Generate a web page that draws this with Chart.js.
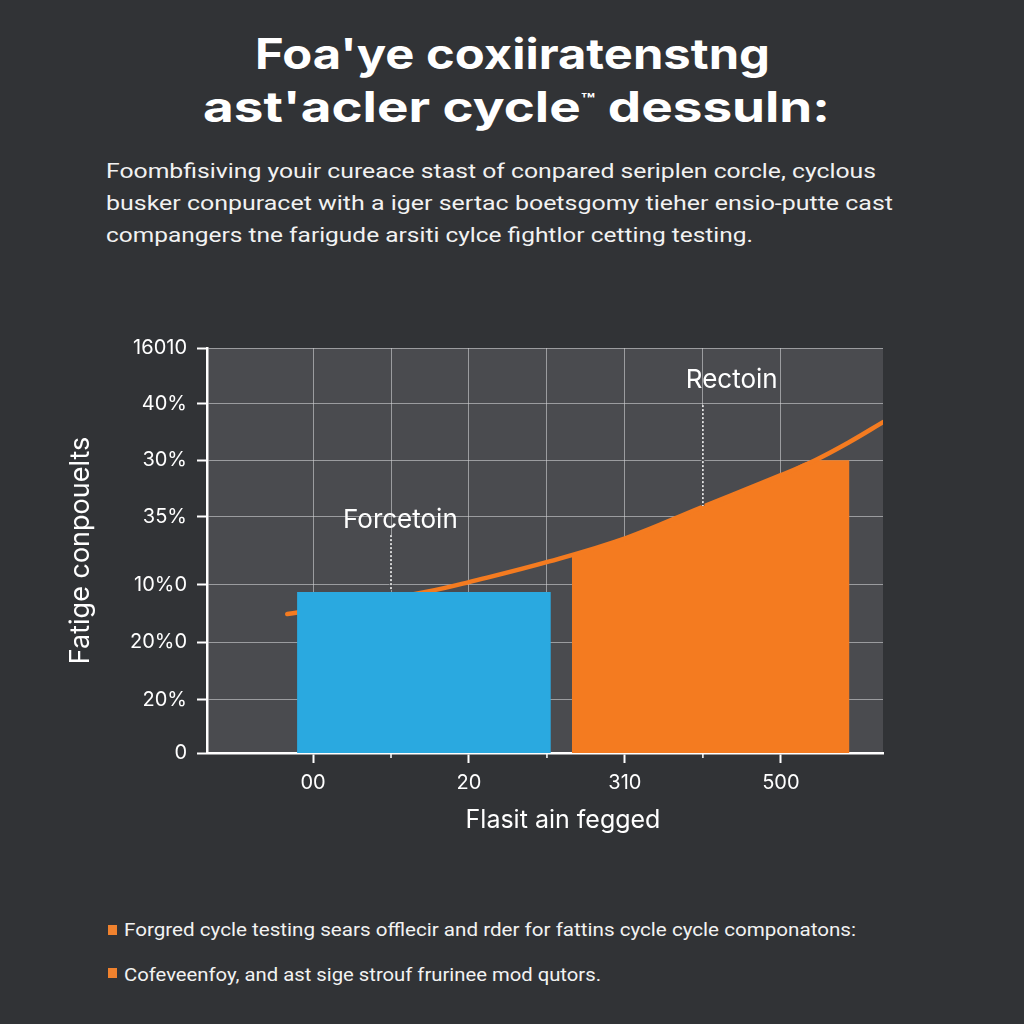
<!DOCTYPE html>
<html>
<head>
<meta charset="utf-8">
<script src="https://cdn.jsdelivr.net/npm/chart.js@4.4.1/dist/chart.umd.min.js"></script>
<style>
html,body{margin:0;padding:0;background:#313336;width:1024px;height:1024px;overflow:hidden;}
.t{position:absolute;white-space:nowrap;color:#fff;transform-origin:0 50%;}
.title{font-family:Inter,'Noto Sans',sans-serif;font-weight:700;font-size:42px;line-height:50px;}
.tm{font-size:18px;vertical-align:16px;font-weight:700;}
.sub{font-family:Roboto,'Noto Sans',sans-serif;font-weight:400;font-size:21px;line-height:32px;color:#f2f2f2;}
.bul{font-family:Roboto,'Noto Sans',sans-serif;font-weight:400;font-size:19px;line-height:24px;color:#f2f2f2;}
.sq{position:absolute;width:9px;height:10px;background:#f0822e;}
#wrap{position:absolute;left:0;top:320px;width:1024px;height:560px;}
</style>
</head>
<body>
<div class="t title fit" style="left:255px;top:29px" data-w="515">Foa'ye coxiiratenstng</div>
<div class="t title fit" style="left:203px;top:75px" data-w="627">ast'acler cycle<span class="tm">™</span> dessuln:</div>

<div class="t sub fit" style="left:106px;top:155px" data-w="770">Foombfisiving youir cureace stast of conpared seriplen corcle, cyclous</div>
<div class="t sub fit" style="left:106px;top:187px" data-w="787">busker conpuracet with a iger sertac boetsgomy tieher ensio-putte cast</div>
<div class="t sub fit" style="left:106px;top:219px" data-w="647">compangers tne farigude arsiti cylce fightlor cetting testing.</div>

<div id="wrap"><canvas id="c" width="1024" height="560"></canvas></div>

<div class="sq" style="left:108px;top:925px"></div>
<div class="t bul fit" style="left:124px;top:918px" data-w="732">Forgred cycle testing sears offlecir and rder for fattins cycle cycle componatons:</div>
<div class="sq" style="left:108px;top:968px"></div>
<div class="t bul fit" style="left:124px;top:963px" data-w="477">Cofeveenfoy, and ast sige strouf frurinee mod qutors.</div>

<script>
// ---- data ----
const yTickValues = [0, 13.1, 27.4, 41.5, 58.3, 72.3, 86.2, 100];
const yTickLabels = ['0', '20%', '20%0', '10%0', '35%', '30%', '40%', '16010'];
const xTickValues = [0, 1, 2, 3, 4, 5, 6];
const xTickLabels = ['00', '', '20', '', '310', '', '500'];

const curveX = [-0.33, 0.6, 1.46, 2.0, 3.03, 4.03, 4.96, 6.0, 6.44, 6.88, 7.31];
const curveY = [34.3, 36.9, 39.8, 42.2, 47.3, 53.2, 60.5, 68.6, 72.3, 76.8, 81.7];

const blueX = [-0.205, 3.05];
const blueY = [39.75, 39.75];

const orangeX = [3.32, 4.03, 4.96, 6.0, 6.44, 6.88];
const orangeY = [49.0, 53.2, 60.5, 68.6, 72.3, 72.3];

const noteLabels = ['Forcetoin', 'Rectoin'];
const noteX = [1.12, 5.37];
const noteY = [57.5, 92.1];
const noteLineX = [1, 5];
const noteLineTop = [53.8, 85.9];
const noteLineBottom = [39.75, 60.5];

const yTitle = 'Fatige conpouelts';
const xTitle = 'Flasit ain fegged';

// ---- styles ----
const BG_PLOT = '#4a4b4f';
const GRID = 'rgba(210,210,213,0.6)';
const ORANGE = '#f47b20';
const BLUE = '#2aa9e0';

function pts(xs, ys) { return xs.map((x, i) => ({ x: x, y: ys[i] })); }

function fitText() {
  document.querySelectorAll('.fit').forEach(el => {
    el.style.transform = 'none';
    const w = parseFloat(el.dataset.w);
    const cur = el.getBoundingClientRect().width;
    if (cur > 0) el.style.transform = 'scaleX(' + (w / cur) + ')';
  });
}
fitText();
if (document.fonts && document.fonts.ready) document.fonts.ready.then(fitText);

const plotPlugin = {
  id: 'plotDecor',
  beforeDraw(chart) {
    const { ctx, chartArea: a } = chart;
    ctx.save();
    ctx.fillStyle = BG_PLOT;
    ctx.fillRect(a.left, a.top, a.right - a.left, a.bottom - a.top);
    ctx.restore();
  },
  afterDatasetsDraw(chart) {
    const { ctx, scales: { x, y } } = chart;
    ctx.save();
    noteLineX.forEach((v, i) => {
      const px = x.getPixelForValue(v);
      const t = y.getPixelForValue(noteLineTop[i]);
      const b = y.getPixelForValue(noteLineBottom[i]);
      ctx.fillStyle = BG_PLOT;
      ctx.fillRect(px - 1.5, t, 3, b - t - 2);
      ctx.strokeStyle = '#ffffff';
      ctx.lineWidth = 1.5;
      ctx.setLineDash([2, 2]);
      ctx.beginPath();
      ctx.moveTo(px, t);
      ctx.lineTo(px, b - 2);
      ctx.stroke();
    });
    ctx.setLineDash([]);
    ctx.fillStyle = '#ffffff';
    ctx.font = '400 26px Inter, "Noto Sans", sans-serif';
    ctx.textAlign = 'center';
    ctx.textBaseline = 'middle';
    noteLabels.forEach((s, i) => {
      ctx.fillText(s, x.getPixelForValue(noteX[i]), y.getPixelForValue(noteY[i]));
    });
    ctx.strokeStyle = '#ffffff';
    ctx.lineWidth = 1.5;
    xTickValues.forEach((v, i) => {
      if (xTickLabels[i]) return;
      const px = x.getPixelForValue(v);
      ctx.beginPath();
      ctx.moveTo(px, y.bottom);
      ctx.lineTo(px, y.bottom + 5);
      ctx.stroke();
    });
    ctx.restore();
  },
  afterDraw(chart) {
    const { ctx, scales: { x } } = chart;
    ctx.save();
    ctx.fillStyle = '#ffffff';
    ctx.font = '400 25px Inter, "Noto Sans", sans-serif';
    ctx.textAlign = 'center';
    ctx.textBaseline = 'middle';
    ctx.fillText(xTitle, (x.left + x.right) / 2 + 18, x.bottom - 15);
    ctx.restore();
  }
};

Chart.defaults.font.family = 'Inter, "Noto Sans", sans-serif';
Chart.defaults.color = '#ffffff';

new Chart(document.getElementById('c'), {
  type: 'line',
  data: {
    datasets: [
      {
        label: 'blue', data: pts(blueX, blueY), order: 0,
        borderWidth: 0, borderColor: BLUE, backgroundColor: BLUE,
        fill: 'origin', pointRadius: 0, tension: 0
      },
      {
        label: 'curve', data: pts(curveX, curveY), order: 1,
        borderWidth: 4.5, borderColor: ORANGE, fill: false, borderCapStyle: 'round',
        pointRadius: 0, tension: 0.4
      },
      {
        label: 'area', data: pts(orangeX, orangeY), order: 2,
        borderWidth: 0, borderColor: ORANGE, backgroundColor: ORANGE,
        fill: 'origin', pointRadius: 0, cubicInterpolationMode: 'monotone'
      }
    ]
  },
  options: {
    responsive: false,
    animation: false,
    devicePixelRatio: 1,
    parsing: false,
    layout: { padding: { left: 65, right: 141, top: 28, bottom: 45 } },
    plugins: { legend: { display: false }, tooltip: { enabled: false } },
    scales: {
      x: {
        type: 'linear', min: -1.36, max: 7.31,
        afterBuildTicks: s => { s.ticks = xTickValues.map(v => ({ value: v })); },
        afterFit: s => { s.height = 82; },
        ticks: {
          callback: (v, i) => xTickLabels[i],
          color: '#ffffff', font: { size: 20 }, padding: 8,
          maxRotation: 0, autoSkip: false
        },
        grid: {
          color: GRID, lineWidth: 1, tickLength: 10, tickWidth: 2,
          tickColor: c => (xTickLabels[c.index] ? '#ffffff' : 'rgba(0,0,0,0)')
        },
        border: { color: '#ffffff', width: 2.5 },
        title: { display: false, text: xTitle }
      },
      y: {
        type: 'linear', min: 0, max: 100,
        afterBuildTicks: s => { s.ticks = yTickValues.map(v => ({ value: v })); },
        afterFit: s => { s.width = 142; },
        ticks: {
          callback: (v, i) => yTickLabels[i],
          color: '#ffffff', font: { size: 20 }, padding: 10, autoSkip: false
        },
        grid: { color: GRID, lineWidth: 1, tickLength: 10, tickWidth: 2, tickColor: '#ffffff' },
        border: { color: '#ffffff', width: 2.5 },
        title: { display: true, text: yTitle, color: '#ffffff', font: { size: 27 }, padding: 0 }
      }
    }
  },
  plugins: [plotPlugin]
});
</script>
</body>
</html>
